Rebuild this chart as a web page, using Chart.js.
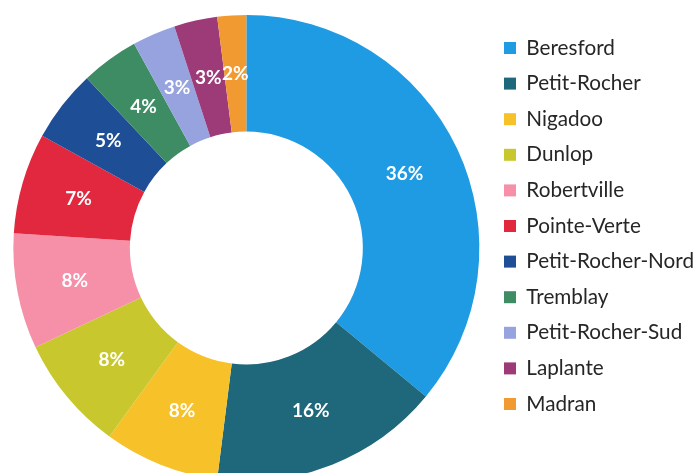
<!DOCTYPE html>
<html>
<head>
<meta charset="utf-8">
<script src="https://cdn.jsdelivr.net/npm/chart.js@4/dist/chart.umd.min.js"></script>
<style>
  html, body { margin: 0; padding: 0; background: #ffffff; overflow: hidden; width: 698px; height: 473px; }
  #wrap { position: absolute; left: 0; top: 0; width: 704px; height: 481px; }
</style>
</head>
<body>
<div id="wrap"><canvas id="c"></canvas></div>
<script>
const categories = ["Beresford", "Petit-Rocher", "Nigadoo", "Dunlop", "Robertville", "Pointe-Verte", "Petit-Rocher-Nord", "Tremblay", "Petit-Rocher-Sud", "Laplante", "Madran"];
const shares = [36, 16, 8, 8, 8, 7, 5, 4, 3, 3, 2];
const sliceColors = ["#1F9BE3", "#1F677A", "#F7C12A", "#C8C82E", "#F590A8", "#E1283F", "#1D4E96", "#3E8C63", "#97A3DF", "#9C3B78", "#F29A32"];

const pctLabels = {
  id: 'pctLabels',
  afterDatasetsDraw(chart) {
    const ctx = chart.ctx;
    const meta = chart.getDatasetMeta(0);
    ctx.save();
    ctx.fillStyle = '#ffffff';
    ctx.font = 'bold 19px Lato';
    ctx.textAlign = 'center';
    ctx.textBaseline = 'middle';
    meta.data.forEach((arc, i) => {
      const p = arc.tooltipPosition();
      ctx.fillText(shares[i] + '%', p.x, p.y);
    });
    ctx.restore();
  }
};

new Chart(document.getElementById('c'), {
  type: 'doughnut',
  data: {
    labels: categories,
    datasets: [{
      data: shares,
      backgroundColor: sliceColors,
      borderWidth: 0,
      hoverOffset: 0
    }]
  },
  options: {
    responsive: true,
    maintainAspectRatio: false,
    animation: false,
    cutout: '50%',
    layout: { padding: { left: 3.6, right: 0, top: 15, bottom: 0 } },
    plugins: {
      tooltip: { enabled: false },
      legend: {
        position: 'right',
        align: 'start',
        title: { display: true, text: '', font: { size: 1, lineHeight: 1 }, padding: { top: 0, bottom: 6.75 } },
        labels: {
          font: { family: 'Lato', size: 20.7 },
          color: '#262626',
          boxWidth: 12,
          boxHeight: 12,
          padding: 14.9
        }
      }
    }
  },
  plugins: [pctLabels]
});
</script>
</body>
</html>
